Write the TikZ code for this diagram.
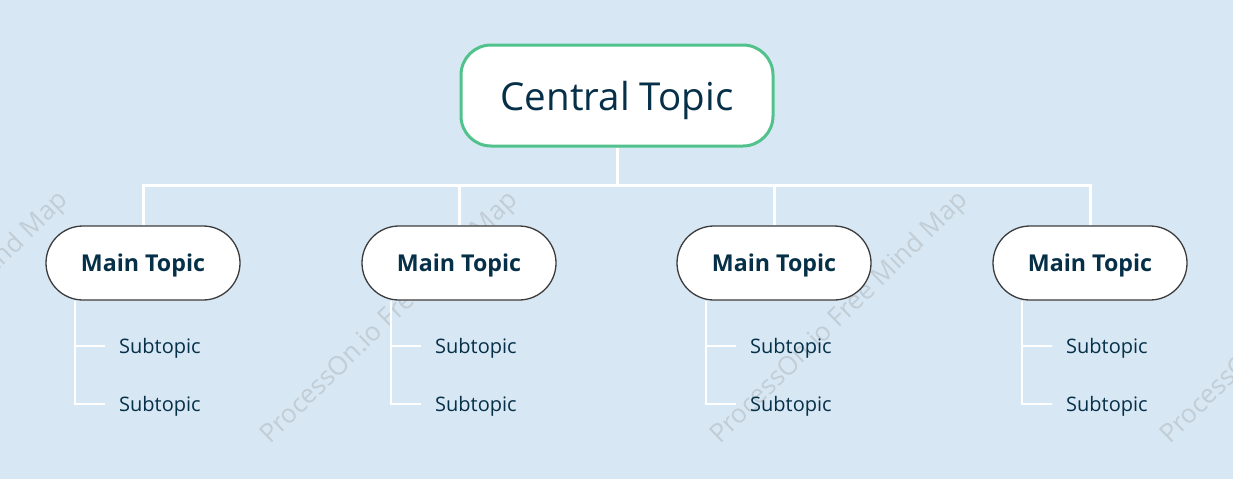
\documentclass[tikz,border=0pt]{standalone}
\usepackage{fontspec}
\setmainfont{Open Sans}
\definecolor{bgblue}{RGB}{215,232,244}
\definecolor{ink}{RGB}{6,47,72}
\definecolor{rimgreen}{RGB}{82,194,140}
\definecolor{rimgray}{RGB}{60,60,60}
\definecolor{wmark}{RGB}{194,205,214}

\begin{document}
\begin{tikzpicture}[x=1pt, y=-1pt,
    central/.style={draw=rimgreen, line width=3pt, fill=white, rounded corners=30pt,
      minimum width=312pt, minimum height=101pt, text=ink, text depth=0pt,
      font=\fontsize{38.5}{42}\selectfont},
    maintopic/.style={draw=rimgray, line width=1.3pt, fill=white, rounded corners=37pt,
      minimum width=194pt, minimum height=74pt, text=ink, text depth=0pt,
      font=\fontsize{23.2}{26}\selectfont\bfseries},
    subtopic/.style={anchor=west, inner xsep=14pt, text=ink, text depth=0pt,
      font=\fontsize{20}{24}\selectfont},
    trunk/.style={white, line width=3pt},
    twig/.style={white, line width=1.5pt},
    watermark/.style={text=wmark, rotate=44.3, font=\fontsize{26}{28}\selectfont}]
  \fill[bgblue] (0,0) rectangle (1233,479);
  \useasboundingbox (0,0) rectangle (1233,479);

  % faint watermark behind everything
  \node[watermark] (wm0) at (-60,318) {ProcessOn.io Free Mind Map};
  \node[watermark] (wm1) at (390,318) {ProcessOn.io Free Mind Map};
  \node[watermark] (wm2) at (840,318) {ProcessOn.io Free Mind Map};
  \node[watermark] (wm3) at (1290,318) {ProcessOn.io Free Mind Map};

  \node[central] (ct) at (617,95.5) {Central Topic};

  \node[maintopic] (m1) at (143,263) {Main Topic};
  \node[maintopic] (m2) at (459,263) {Main Topic};
  \node[maintopic] (m3) at (774,263) {Main Topic};
  \node[maintopic] (m4) at (1090,263) {Main Topic};

  \node[subtopic] (s11) at (105,346) {Subtopic};
  \node[subtopic] (s12) at (105,404) {Subtopic};
  \node[subtopic] (s21) at (421,346) {Subtopic};
  \node[subtopic] (s22) at (421,404) {Subtopic};
  \node[subtopic] (s31) at (736,346) {Subtopic};
  \node[subtopic] (s32) at (736,404) {Subtopic};
  \node[subtopic] (s41) at (1052,346) {Subtopic};
  \node[subtopic] (s42) at (1052,404) {Subtopic};

  % central to main topics
  \coordinate (bus) at (617,185);
  \draw[trunk] (ct.south) -- (bus);
  \draw[trunk] (bus) -| (m1.north);
  \draw[trunk] (bus) -| (m2.north);
  \draw[trunk] (bus) -| (m3.north);
  \draw[trunk] (bus) -| (m4.north);

  % main topics to subtopics
  \draw[twig] ([xshift=-68pt]m1.south) |- (s11.west);
  \draw[twig] ([xshift=-68pt]m1.south) |- (s12.west);
  \draw[twig] ([xshift=-68pt]m2.south) |- (s21.west);
  \draw[twig] ([xshift=-68pt]m2.south) |- (s22.west);
  \draw[twig] ([xshift=-68pt]m3.south) |- (s31.west);
  \draw[twig] ([xshift=-68pt]m3.south) |- (s32.west);
  \draw[twig] ([xshift=-68pt]m4.south) |- (s41.west);
  \draw[twig] ([xshift=-68pt]m4.south) |- (s42.west);
\end{tikzpicture}
\end{document}
